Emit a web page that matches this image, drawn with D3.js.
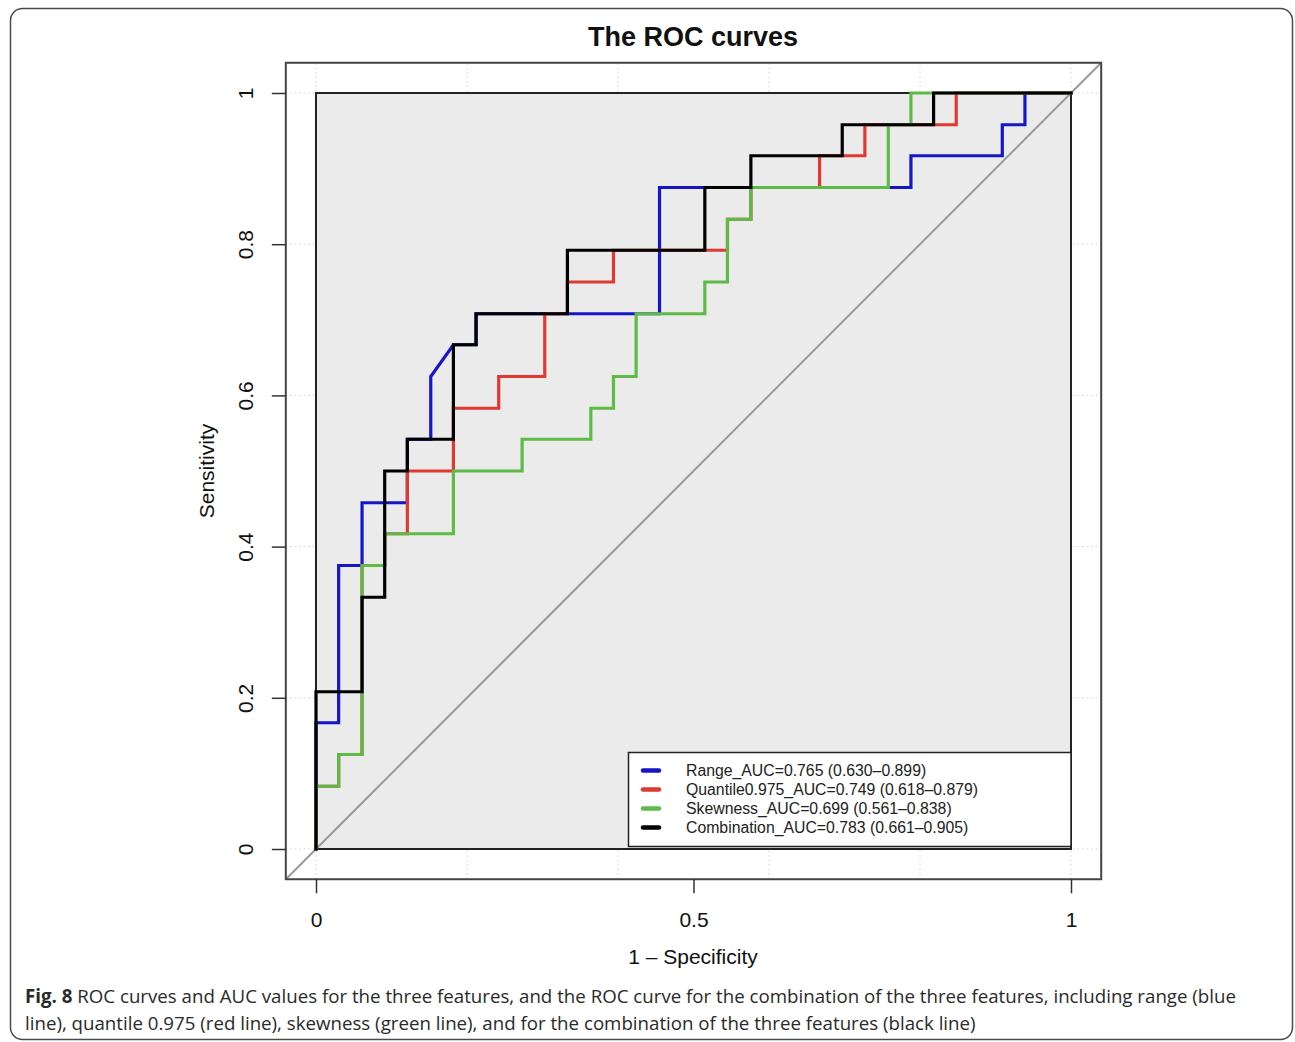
<!DOCTYPE html>
<html>
<head>
<meta charset="utf-8">
<script src="https://cdn.jsdelivr.net/npm/d3@7"></script>
<style>
  html, body { margin: 0; padding: 0; background: #fff; }
  svg { display: block; }
</style>
</head>
<body>
<svg id="chart" width="1295" height="1042"></svg>
<script>
// ---------------- DATA ----------------
const seriesNames = ["Range", "Quantile0.975", "Skewness", "Combination"];
const aucValues = ["0.765", "0.749", "0.699", "0.783"];
const ciLow = ["0.630", "0.618", "0.561", "0.661"];
const ciHigh = ["0.899", "0.879", "0.838", "0.905"];
const seriesColors = ["#1616c8", "#de3a32", "#5dbb46", "#000000"];

// ROC vertices (1 - specificity, sensitivity)
const rangeFpr = [0,0,.030,.030,.061,.061,.121,.121,.152,.152,.182,.212,.212,.455,.455,.788,.788,.909,.909,.939,.939,1];
const rangeTpr = [0,.167,.167,.375,.375,.458,.458,.542,.542,.625,.667,.667,.708,.708,.875,.875,.917,.917,.958,.958,1,1];

const quantileFpr = [0,0,.030,.030,.061,.061,.091,.091,.121,.121,.182,.182,.242,.242,.303,.303,.333,.333,.394,.394,.545,.545,.576,.576,.667,.667,.727,.727,.848,.848,1];
const quantileTpr = [0,.083,.083,.125,.125,.375,.375,.417,.417,.5,.5,.583,.583,.625,.625,.708,.708,.75,.75,.792,.792,.833,.833,.875,.875,.917,.917,.958,.958,1,1];

const skewnessFpr = [0,0,.030,.030,.061,.061,.091,.091,.182,.182,.273,.273,.364,.364,.394,.394,.424,.424,.515,.515,.545,.545,.576,.576,.758,.758,.788,.788,1];
const skewnessTpr = [0,.083,.083,.125,.125,.375,.375,.417,.417,.5,.5,.542,.542,.583,.583,.625,.625,.708,.708,.75,.75,.833,.833,.875,.875,.958,.958,1,1];

const combinationFpr = [0,0,.061,.061,.091,.091,.121,.121,.182,.182,.212,.212,.333,.333,.515,.515,.576,.576,.697,.697,.818,.818,1];
const combinationTpr = [0,.208,.208,.333,.333,.5,.5,.542,.542,.667,.667,.708,.708,.792,.792,.875,.875,.917,.917,.958,.958,1,1];

const xTicks = [0, 0.5, 1];
const xTickLabels = ["0", "0.5", "1"];
const yTicks = [0, 0.2, 0.4, 0.6, 0.8, 1];
const yTickLabels = ["0", "0.2", "0.4", "0.6", "0.8", "1"];
const gridTicks = [0, 0.2, 0.4, 0.6, 0.8, 1];

const titleText = "The ROC curves";
const xLabel = "1 \u2013 Specificity";
const yLabel = "Sensitivity";
const captionBold = "Fig. 8";
const captionLine1 = " ROC curves and AUC values for the three features, and the ROC curve for the combination of the three features, including range (blue";
const captionLine2 = "line), quantile 0.975 (red line), skewness (green line), and for the combination of the three features (black line)";

// ---------------- DRAW ----------------
const svg = d3.select("#chart");
const AX = "'Liberation Sans', Arial, Helvetica, sans-serif";

const x = d3.scaleLinear().domain([0, 1]).range([316, 1071]);
const y = d3.scaleLinear().domain([0, 1]).range([849, 93]);
const ext = 0.04;
const x0 = x(-ext), x1 = x(1 + ext), y0 = y(-ext), y1 = y(1 + ext);

// figure frame
svg.append("rect")
  .attr("x", 10.5).attr("y", 8.5).attr("width", 1282).attr("height", 1031)
  .attr("rx", 12).attr("ry", 12)
  .attr("fill", "#fff").attr("stroke", "#4a4a4a").attr("stroke-width", 1.5);

// plot area (white) with faint dotted grid
svg.append("rect").attr("x", x0).attr("y", y1).attr("width", x1 - x0).attr("height", y0 - y1).attr("fill", "#fff");
const grid = svg.append("g").attr("stroke", "#cfcfcf").attr("stroke-width", 1).attr("stroke-dasharray", "1.5,3");
grid.selectAll("line.v").data(gridTicks).join("line").attr("class", "v")
  .attr("x1", d => x(d)).attr("x2", d => x(d)).attr("y1", y0).attr("y2", y1);
grid.selectAll("line.h").data(gridTicks).join("line").attr("class", "h")
  .attr("y1", d => y(d)).attr("y2", d => y(d)).attr("x1", x0).attr("x2", x1);

// inner gray rect
svg.append("rect")
  .attr("x", x(0)).attr("y", y(1)).attr("width", x(1) - x(0)).attr("height", y(0) - y(1))
  .attr("fill", "#ebebeb").attr("stroke", "#222").attr("stroke-width", 2);

// diagonal
svg.append("line")
  .attr("x1", x(-ext)).attr("y1", y(-ext)).attr("x2", x(1 + ext)).attr("y2", y(1 + ext))
  .attr("stroke", "#9a9a9a").attr("stroke-width", 2);

// curves
const allFpr = [rangeFpr, quantileFpr, skewnessFpr, combinationFpr];
const allTpr = [rangeTpr, quantileTpr, skewnessTpr, combinationTpr];
const line = d3.line().x(d => x(d[0])).y(d => y(d[1]));
allFpr.forEach((fpr, i) => {
  const pts = fpr.map((f, k) => [f, allTpr[i][k]]);
  svg.append("path").datum(pts)
    .attr("d", line)
    .attr("fill", "none")
    .attr("stroke", seriesColors[i])
    .attr("stroke-width", 3.2)
    .attr("stroke-linejoin", "miter")
    .attr("stroke-linecap", "square");
});

// outer box
svg.append("rect").attr("x", x0).attr("y", y1).attr("width", x1 - x0).attr("height", y0 - y1)
  .attr("fill", "none").attr("stroke", "#444").attr("stroke-width", 2);

// axes
const xAxis = d3.axisBottom(x).tickValues(xTicks).tickFormat((d, i) => xTickLabels[i]).tickSize(14).tickPadding(19);
const gx = svg.append("g").attr("transform", `translate(0,${y0})`).call(xAxis);
gx.select(".domain").remove();
gx.selectAll(".tick line").attr("stroke", "#333").attr("stroke-width", 1.5);
gx.selectAll(".tick text").attr("font-family", AX).attr("font-size", 21).attr("fill", "#111");

const yAxis = d3.axisLeft(y).tickValues(yTicks).tickFormat((d, i) => yTickLabels[i]).tickSize(14);
const gy = svg.append("g").attr("transform", `translate(${x0},0)`).call(yAxis);
gy.select(".domain").remove();
gy.selectAll(".tick line").attr("stroke", "#333").attr("stroke-width", 1.5);
gy.selectAll(".tick text")
  .attr("x", null).attr("dy", null)
  .attr("text-anchor", "middle")
  .attr("transform", `translate(${253 - x0},0) rotate(-90)`)
  .attr("font-family", AX).attr("font-size", 21).attr("fill", "#111");

// title and axis labels
svg.append("text").attr("x", 693).attr("y", 46).attr("text-anchor", "middle")
  .attr("font-family", AX).attr("font-weight", "bold").attr("font-size", 27).attr("fill", "#111")
  .text(titleText);
svg.append("text").attr("x", 693).attr("y", 964).attr("text-anchor", "middle")
  .attr("font-family", AX).attr("font-size", 21).attr("fill", "#111").text(xLabel);
svg.append("text").attr("transform", "translate(214,471) rotate(-90)").attr("text-anchor", "middle")
  .attr("font-family", AX).attr("font-size", 21).attr("fill", "#111").text(yLabel);

// legend
const lg = svg.append("g");
lg.append("rect").attr("x", 628.5).attr("y", 752.5).attr("width", 442.5).attr("height", 94)
  .attr("fill", "#fff").attr("stroke", "#222").attr("stroke-width", 1.5);
seriesNames.forEach((name, i) => {
  const ry = 770.5 + i * 19;
  lg.append("line").attr("x1", 643).attr("x2", 659).attr("y1", ry).attr("y2", ry)
    .attr("stroke", seriesColors[i]).attr("stroke-width", 4.5).attr("stroke-linecap", "round");
  lg.append("text").attr("x", 686).attr("y", ry + 5.6)
    .attr("font-family", AX).attr("font-size", 15.8).attr("fill", "#222")
    .text(`${name}_AUC=${aucValues[i]} (${ciLow[i]}\u2013${ciHigh[i]})`);
});

// caption
const CF = "'Open Sans', 'Noto Sans', sans-serif";
const cap1 = svg.append("text").attr("x", 25).attr("y", 1003).attr("font-family", CF).attr("font-size", 18).attr("fill", "#2a2a2a");
cap1.append("tspan").attr("font-weight", "bold").text(captionBold);
cap1.append("tspan").text(captionLine1);
const cap2 = svg.append("text").attr("x", 25).attr("y", 1030).attr("font-family", CF).attr("font-size", 18).attr("fill", "#2a2a2a")
  .text(captionLine2);
const w1 = cap1.node().getComputedTextLength();
const fs = 18 * 1212 / w1;
cap1.attr("font-size", fs);
cap2.attr("font-size", fs);
</script>
</body>
</html>
